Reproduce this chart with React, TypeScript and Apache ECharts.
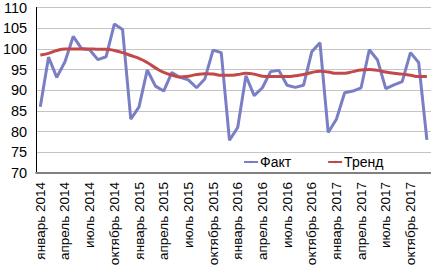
import React, { useEffect, useRef } from "react";
import * as echarts from "echarts";

const monthNames = ["январь", "февраль", "март", "апрель", "май", "июнь", "июль", "август", "сентябрь", "октябрь", "ноябрь", "декабрь"];
const years = [2014, 2015, 2016, 2017];
const categories: string[] = [];
years.forEach((y) => monthNames.forEach((m) => categories.push(`${m} ${y}`)));

const fact = [
  86, 98, 93.1, 96.9, 103, 100.1, 99.8, 97.4, 98.1, 106, 104.7, 83,
  86, 94.9, 91, 89.8, 94.3, 93.1, 92.5, 90.6, 92.7, 99.7, 99.1, 77.9,
  81, 93.5, 88.7, 90.6, 94.5, 94.8, 91.2, 90.7, 91.2, 99.3, 101.5, 79.8,
  83, 89.4, 89.8, 90.6, 99.8, 97.3, 90.4, 91.3, 92.1, 99.1, 96.7, 78,
];
const trend = [
  98.5, 98.9, 99.6, 100, 100, 100, 100, 99.9, 99.9, 99.6, 99.1, 98.4,
  97.7, 96.7, 95.4, 94.3, 93.7, 93.2, 93.4, 93.8, 94, 93.9, 93.6, 93.6,
  93.8, 94.1, 93.9, 93.4, 93.3, 93.3, 93.3, 93.5, 93.8, 94.3, 94.6, 94.4,
  94.1, 94.1, 94.5, 94.9, 95, 94.8, 94.4, 94.1, 93.9, 93.6, 93.3, 93.3,
];
const seriesNames = ["Факт", "Тренд"];
const yMin = 70;
const yMax = 110;
const yStep = 5;

export default function App() {
  const ref = useRef<HTMLDivElement>(null);
  useEffect(() => {
    if (!ref.current) return;
    const chart = echarts.init(ref.current, null, { renderer: "svg" });
    chart.setOption({
      animation: false,
      grid: { left: 36, right: 0, top: 5, bottom: 97, containLabel: false },
      legend: {
        data: seriesNames,
        left: 243,
        top: 155,
        itemWidth: 14,
        itemHeight: 3,
        itemGap: 36,
        padding: 0,
        textStyle: { fontFamily: "Liberation Sans", fontSize: 14, color: "#000", padding: [0, 0, 0, -3] },
      },
      xAxis: {
        type: "category",
        data: categories,
        boundaryGap: true,
        axisLine: { show: true, lineStyle: { color: "#808080", width: 2 } },
        axisTick: { show: false },
        axisLabel: {
          interval: 2,
          rotate: 90,
          margin: 9,
          fontFamily: "Liberation Sans",
          fontSize: 13.5,
          color: "#000",
        },
      },
      yAxis: {
        type: "value",
        min: yMin,
        max: yMax,
        interval: yStep,
        axisLine: { show: true, lineStyle: { color: "#000", width: 1 } },
        axisTick: { show: false },
        splitLine: { show: true, lineStyle: { color: "#C4C4C4", width: 1 } },
        axisLabel: {
          margin: 9,
          fontFamily: "Liberation Sans",
          fontSize: 14.5,
          color: "#000",
        },
      },
      series: [
        {
          name: seriesNames[0],
          type: "line",
          data: fact,
          symbol: "none",
          lineStyle: { color: "#7A7EC4", width: 3 },
          itemStyle: { color: "#7A7EC4" },
        },
        {
          name: seriesNames[1],
          type: "line",
          data: trend,
          symbol: "none",
          smooth: true,
          lineStyle: { color: "#C3484A", width: 3 },
          itemStyle: { color: "#C3484A" },
        },
      ],
    });
    return () => chart.dispose();
  }, []);
  return <div ref={ref} style={{ width: 431, height: 270, position: "absolute", left: 0, top: 0, background: "#fff" }} />;
}
